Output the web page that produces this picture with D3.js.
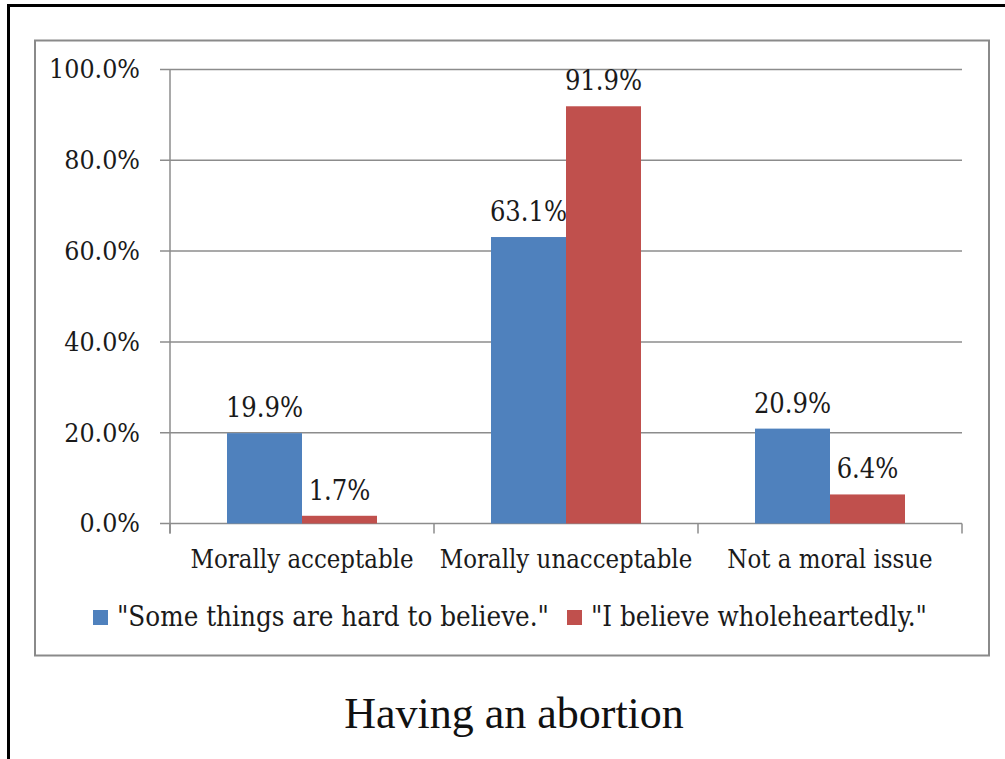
<!DOCTYPE html>
<html><head><meta charset="utf-8">
<script src="https://cdn.jsdelivr.net/npm/d3@7"></script>
<style>html,body{margin:0;padding:0;background:#fff;}svg{display:block;}</style>
</head><body>
<svg id="c" width="1005" height="759"></svg>
<script>
const categories = ["Morally acceptable", "Morally unacceptable", "Not a moral issue"];
const seriesNames = ["\"Some things are hard to believe.\"", "\"I believe wholeheartedly.\""];
const seriesHard = [19.9, 63.1, 20.9];
const seriesWhole = [1.7, 91.9, 6.4];
const yTicks = [0, 20, 40, 60, 80, 100];
const colors = ["#4F81BD", "#C0504D"];
const title = "Having an abortion";

const svg = d3.select("#c");
const FONT = "'DejaVu Serif Condensed', 'DejaVu Serif', serif";

// outer black frame
svg.append("rect").attr("x", 8.5).attr("y", 5.5).attr("width", 1010).attr("height", 770)
  .attr("fill", "none").attr("stroke", "#000").attr("stroke-width", 3);
// chart box
svg.append("rect").attr("x", 35).attr("y", 40.5).attr("width", 954).attr("height", 615)
  .attr("fill", "#fff").attr("stroke", "#8a8a8a").attr("stroke-width", 2);

const L = 170, R = 962, T = 69.5, B = 523.5;
const x = d3.scaleBand().domain(categories).range([L, R]).paddingInner(0).paddingOuter(0);
const y = d3.scaleLinear().domain([0, 100]).range([B, T]);
// group of bars occupies 150/264 of each band
const groupW = x.bandwidth() * 150 / 264;
const xs = d3.scaleBand().domain([0, 1]).range([(x.bandwidth() - groupW) / 2, (x.bandwidth() + groupW) / 2]);

// gridlines
svg.append("g").selectAll("line").data(yTicks).join("line")
  .attr("x1", L - 10).attr("x2", R).attr("y1", d => y(d)).attr("y2", d => y(d))
  .attr("stroke", "#8c8c8c").attr("stroke-width", 1.5);

// y axis
const yAxis = d3.axisLeft(y).tickValues(yTicks).tickSize(0).tickPadding(30)
  .tickFormat(d => d3.format(".1f")(d) + "%");
const gy = svg.append("g").attr("transform", `translate(${L},0)`).call(yAxis);
gy.select(".domain").remove();
gy.selectAll("text").attr("font-family", FONT).attr("font-size", 26.5).attr("fill", "#1a1a1a");
svg.append("line").attr("x1", L).attr("x2", L).attr("y1", T).attr("y2", B + 10)
  .attr("stroke", "#8c8c8c").attr("stroke-width", 1.5);

// x axis
const gx = svg.append("g").attr("transform", `translate(0,${B})`)
  .call(d3.axisBottom(x).tickSize(0).tickPadding(26));
gx.select(".domain").remove();
gx.selectAll("text").attr("font-family", FONT).attr("font-size", 25.5).attr("fill", "#1a1a1a");
const tickXs = [L, ...categories.map(c => x(c) + x.bandwidth())];
svg.append("g").selectAll("line").data(tickXs).join("line")
  .attr("x1", d => d).attr("x2", d => d).attr("y1", B).attr("y2", B + 10)
  .attr("stroke", "#8c8c8c").attr("stroke-width", 1.5);

// bars
const series = [seriesHard, seriesWhole];
series.forEach((vals, si) => {
  const g = svg.append("g");
  g.selectAll("rect").data(vals).join("rect")
    .attr("x", (d, i) => x(categories[i]) + xs(si))
    .attr("width", xs.bandwidth())
    .attr("y", d => y(d))
    .attr("height", d => y(0) - y(d))
    .attr("fill", colors[si]);
  g.selectAll("text").data(vals).join("text")
    .attr("x", (d, i) => x(categories[i]) + xs(si) + xs.bandwidth() / 2)
    .attr("y", d => y(d) - 16)
    .attr("text-anchor", "middle")
    .attr("font-family", FONT).attr("font-size", 27).attr("fill", "#1a1a1a")
    .text(d => d3.format(".1f")(d) + "%");
});

// legend
const leg = svg.append("g");
const legX = [93, 567];
seriesNames.forEach((n, i) => {
  leg.append("rect").attr("x", legX[i]).attr("y", 610).attr("width", 15).attr("height", 15).attr("fill", colors[i]);
  leg.append("text").attr("x", legX[i] + 24).attr("y", 626)
    .attr("font-family", FONT).attr("font-size", 27.5).attr("fill", "#1a1a1a").text(n);
});

// title
svg.append("text").attr("x", 514).attr("y", 728).attr("text-anchor", "middle")
  .attr("font-family", "'Liberation Serif', serif").attr("font-size", 44).attr("fill", "#111")
  .text(title);
</script>
</body></html>
